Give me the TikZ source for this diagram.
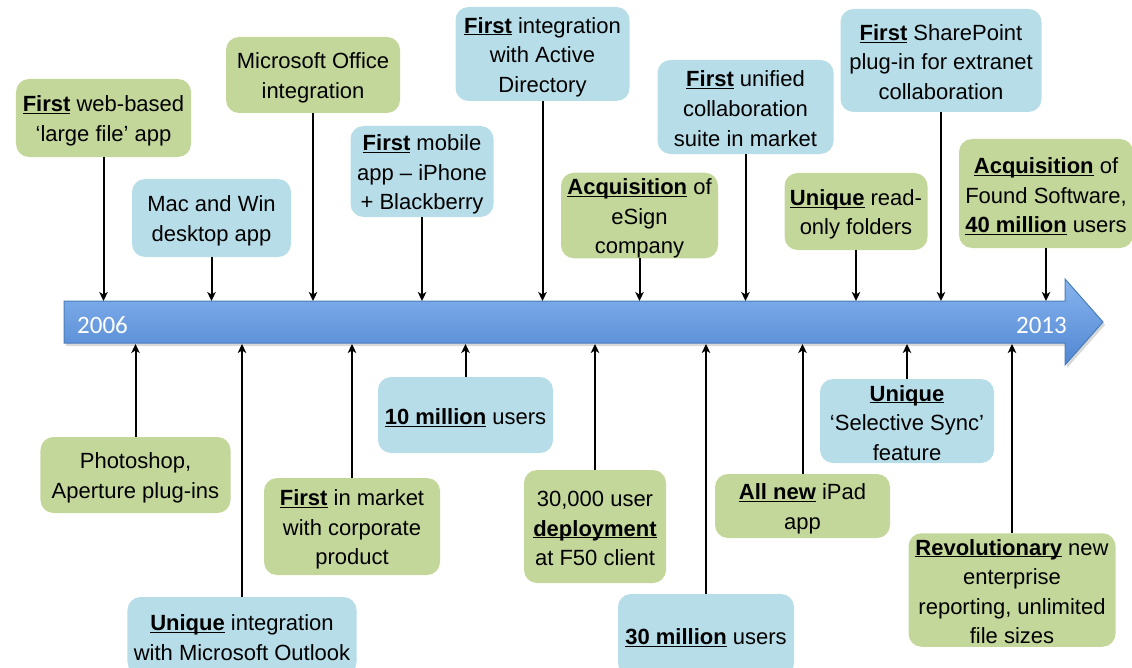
\documentclass[tikz,border=0pt]{standalone}
\usepackage{fontspec}
\setmainfont{Liberation Sans}
\newfontfamily\yearfont{Carlito}
\usetikzlibrary{arrows.meta,shadows}
\definecolor{boxgreen}{RGB}{196,215,155}
\definecolor{boxblue}{RGB}{183,221,232}
\definecolor{bartop}{RGB}{135,180,238}
\definecolor{barbot}{RGB}{80,134,210}
\definecolor{barline}{RGB}{74,126,187}
\newcommand\ub[1]{\underline{\raisebox{0pt}[\height][0pt]{\textbf{#1}}}}
\newcommand\ls{\rule[-3bp]{0pt}{25bp}}
\begin{document}
\begin{tikzpicture}[x=1bp,y=-1bp,
  evt/.style={rounded corners=13bp, inner sep=0pt, align=center,
    font=\fontsize{22bp}{29.5bp}\selectfont, text=black},
  gbox/.style={evt, fill=boxgreen},
  bbox/.style={evt, fill=boxblue},
  conn/.style={line width=2bp, -{Stealth[length=9bp,width=8.5bp,inset=2.5bp]}},
  year/.style={text=white, inner sep=0pt, font=\yearfont\fontsize{25bp}{25bp}\selectfont}]
\clip (0,0) rectangle (1132,668);
\useasboundingbox (0,0) rectangle (1132,668);

% timeline arrow
\path[top color=bartop, bottom color=barbot, draw=barline, line width=1bp,
  drop shadow={opacity=0.3, shadow xshift=2bp, shadow yshift=-3bp}]
  (64,301) -- (1065,301) -- (1065,279) -- (1103,322) -- (1065,365) -- (1065,343) -- (64,343) -- cycle;
\coordinate (bt) at (0,301);
\coordinate (bb) at (0,344);
\node[year, anchor=west] (y1) at (77,325) {2006};
\node[year, anchor=east] (y2) at (1067,325) {2013};

% top events
\node[gbox, minimum width=175bp, minimum height=78bp] (web) at (103.5,118) {\ls\ub{First} web-based\\‘large file’ app\ls};
\node[bbox, minimum width=159bp, minimum height=78bp] (mac) at (211.5,218) {\ls Mac and Win\\desktop app\ls};
\node[gbox, minimum width=174bp, minimum height=76bp] (office) at (313,75) {\ls Microsoft Office\\integration\ls};
\node[bbox, minimum width=143bp, minimum height=91bp] (mobile) at (422,171.5) {\ls\ub{First} mobile\\app – iPhone\\+ Blackberry\ls};
\node[bbox, minimum width=174bp, minimum height=94bp] (ad) at (542.5,54) {\ls\ub{First} integration\\with Active\\Directory\ls};
\node[gbox, minimum width=157bp, minimum height=77bp] (esign) at (639.5,215.5) {\ls\ub{Acquisition} of\\eSign\\company\ls};
\node[bbox, minimum width=176bp, minimum height=94bp] (unified) at (745.5,107) {\ls\ub{First} unified\\collaboration\\suite in market\ls};
\node[gbox, minimum width=143bp, minimum height=77bp] (readonly) at (856,211.5) {\ls\ub{Unique} read-\\only folders\ls};
\node[bbox, minimum width=201bp, minimum height=103bp] (sharepoint) at (941,60.5) {\ls\ub{First} SharePoint\\plug-in for extranet\\collaboration\ls};
\node[gbox, minimum width=174bp, minimum height=109bp] (found) at (1046,193.5) {\ls\ub{Acquisition} of\\Found Software,\\\ub{40 million} users\ls};

% bottom events
\node[gbox, minimum width=190bp, minimum height=76bp] (photo) at (135.5,475) {\ls Photoshop,\\Aperture plug-ins\ls};
\node[bbox, minimum width=229bp, minimum height=78bp] (outlook) at (242,636) {\ls\ub{Unique} integration\\with Microsoft Outlook\ls};
\node[gbox, minimum width=176bp, minimum height=97bp] (market) at (352,526.5) {\ls\ub{First} in market\\with corporate\\product\ls};
\node[bbox, minimum width=175bp, minimum height=76bp] (tenm) at (465.5,415) {\ls\ub{10 million} users\ls};
\node[gbox, minimum width=142bp, minimum height=113bp] (deploy) at (595,526.5) {\ls 30,000 user\\\ub{deployment}\\at F50 client\ls};
\node[bbox, minimum width=176bp, minimum height=82bp] (thirtym) at (706,635) {\ls\ub{30 million} users\ls};
\node[gbox, minimum width=175bp, minimum height=64bp] (ipad) at (802.5,506) {\ls\ub{All new} iPad\\app\ls};
\node[bbox, minimum width=174bp, minimum height=77bp] (sync) at (907,421) {\ls\ub{Unique}\\‘Selective Sync’\\feature\ls};
\node[gbox, minimum width=207bp, minimum height=113bp] (revol) at (1012,590) {\ls\ub{Revolutionary} new\\enterprise\\reporting, unlimited\\file sizes\ls};

% connectors, top
\foreach \n in {web,mac,office,mobile,ad,esign,unified,readonly,sharepoint,found}
  \draw[conn] (\n.south) -- (\n.south |- bt);
% connectors, bottom
\foreach \n in {photo,outlook,market,tenm,deploy,thirtym,ipad,sync,revol}
  \draw[conn] (\n.north) -- (\n.north |- bb);
\end{tikzpicture}
\end{document}
